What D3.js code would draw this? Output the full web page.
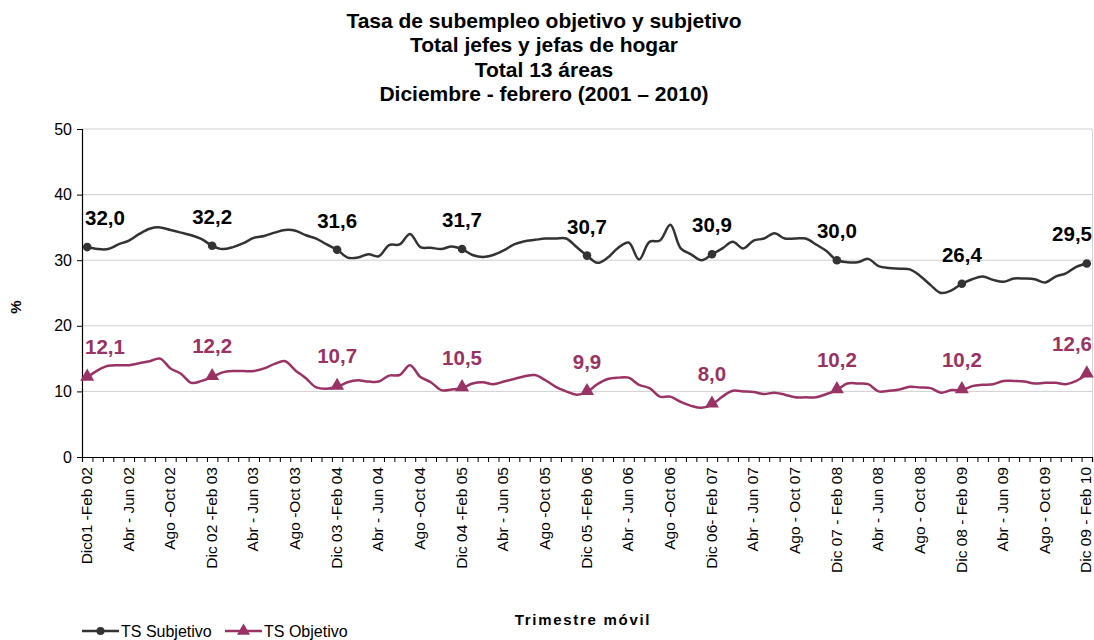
<!DOCTYPE html>
<html>
<head>
<meta charset="utf-8">
<script src="https://cdn.jsdelivr.net/npm/d3@7/dist/d3.min.js"></script>
<style>
  html, body { margin: 0; padding: 0; background: #fff; }
  svg { display: block; font-family: "Liberation Sans", Arial, sans-serif; }
</style>
</head>
<body>
<svg id="chart" width="1094" height="640"></svg>
<script>
// ---------- DATA ----------
const titleLines = [
  "Tasa de subempleo objetivo y subjetivo",
  "Total jefes y jefas de hogar",
  "Total 13 áreas",
  "Diciembre - febrero (2001 – 2010)"
];

// 97 rolling quarters (Dic01-Feb02 ... Dic09-Feb10), one per month
const categoryCount = 97;
const categories = d3.range(categoryCount);

const tickLabels = [
  "Dic01 -Feb 02", "Abr - Jun 02", "Ago -Oct 02",
  "Dic 02 -Feb 03", "Abr - Jun 03", "Ago -Oct 03",
  "Dic 03 -Feb 04", "Abr - Jun 04", "Ago -Oct 04",
  "Dic 04 -Feb 05", "Abr - Jun 05", "Ago -Oct 05",
  "Dic 05 -Feb 06", "Abr - Jun 06", "Ago -Oct 06",
  "Dic  06- Feb 07", "Abr - Jun 07", "Ago - Oct 07",
  "Dic 07 - Feb 08", "Abr - Jun 08", "Ago - Oct 08",
  "Dic 08 - Feb 09", "Abr - Jun 09", "Ago - Oct 09",
  "Dic 09 - Feb 10"
];

const subjetivo = [
  32.0, 31.7, 31.7, 32.4, 33.0, 34.0, 34.8, 35.0, 34.6, 34.2, 33.8, 33.2,
  32.2, 31.7, 32.0, 32.6, 33.4, 33.7, 34.2, 34.6, 34.5, 33.8, 33.3, 32.4,
  31.6, 30.4, 30.4, 30.9, 30.6, 32.3, 32.4, 34.0, 32.0, 31.9, 31.7, 32.1,
  31.7, 30.8, 30.5, 30.8, 31.5, 32.4, 32.9, 33.1, 33.3, 33.3, 33.3, 32.0,
  30.7, 29.6, 30.4, 31.9, 32.7, 30.1, 32.8, 33.0, 35.4, 31.8, 30.9, 30.0,
  30.9, 31.8, 32.8, 31.8, 33.0, 33.3, 34.1, 33.3, 33.3, 33.3, 32.4, 31.4,
  30.0, 29.7, 29.7, 30.2, 29.1, 28.8, 28.7, 28.6, 27.6, 26.2, 25.0, 25.4,
  26.4, 27.1, 27.5, 27.0, 26.7, 27.2, 27.2, 27.1, 26.6, 27.5, 28.0, 29.0,
  29.5
];

const objetivo = [
  12.1, 13.2, 13.9, 14.0, 14.0, 14.3, 14.6, 15.0, 13.5, 12.7, 11.3, 11.6,
  12.2, 12.9, 13.1, 13.1, 13.1, 13.5, 14.2, 14.6, 13.2, 12.0, 10.6, 10.4,
  10.7, 11.4, 11.7, 11.5, 11.5, 12.4, 12.5, 14.0, 12.2, 11.4, 10.2, 10.3,
  10.5, 11.2, 11.4, 11.1, 11.5, 11.9, 12.3, 12.5, 11.7, 10.7, 10.0, 9.5,
  9.9, 11.1, 11.9, 12.1, 12.1, 11.0, 10.5, 9.2, 9.2, 8.4, 7.8, 7.5,
  8.0, 9.2, 10.1, 10.0, 9.9, 9.6, 9.8, 9.5, 9.1, 9.1, 9.1, 9.6,
  10.2, 11.2, 11.2, 11.1, 10.0, 10.1, 10.3, 10.7, 10.6, 10.5, 9.8, 10.2,
  10.2, 10.8, 11.0, 11.1, 11.6, 11.6, 11.5, 11.2, 11.3, 11.3, 11.1, 11.6,
  12.6
];

const yTicks = [0, 10, 20, 30, 40, 50];
const labelEvery = 12;  // data labels / markers every December-February
const tickEvery = 4;    // axis labels every 4 months

const seriesNames = ["TS Subjetivo", "TS Objetivo"];
const colorSubj = "#333333";
const colorObj = "#993366";

// ---------- LAYOUT ----------
const svg = d3.select("#chart");
const W = 1094, H = 640;
const plot = { left: 82, right: 1092, top: 129, bottom: 457 };

const x = d3.scaleBand().domain(categories).range([plot.left, plot.right]).padding(0);
const xc = i => x(i) + x.bandwidth() / 2;
const y = d3.scaleLinear().domain([0, 50]).range([plot.bottom, plot.top]);

// Title
const title = svg.append("text")
  .attr("x", 544).attr("text-anchor", "middle")
  .style("font-weight", "bold").style("font-size", "21px").attr("fill", "#000");
titleLines.forEach((t, k) => {
  title.append("tspan").attr("x", 544).attr("y", 28 + k * 24.3).text(t);
});

// Gridlines
svg.append("g").selectAll("line").data(yTicks.filter(d => d > 0)).join("line")
  .attr("x1", plot.left).attr("x2", plot.right)
  .attr("y1", d => y(d)).attr("y2", d => y(d))
  .attr("stroke", "#cfcfcf").attr("stroke-width", 1);

// right border of plot area
svg.append("line")
  .attr("x1", plot.right + 0.5).attr("x2", plot.right + 0.5)
  .attr("y1", plot.top).attr("y2", plot.bottom)
  .attr("stroke", "#d6d6d6").attr("stroke-width", 1);

// Y axis
const yAxis = svg.append("g")
  .attr("transform", `translate(${plot.left},0)`)
  .call(d3.axisLeft(y).tickValues(yTicks).tickSize(5).tickPadding(5).tickFormat(d3.format("d")));
yAxis.select(".domain").attr("stroke", "#000").attr("stroke-width", 1.2);
yAxis.selectAll(".tick line").attr("stroke", "#000");
yAxis.selectAll("text").style("font-size", "16px").attr("fill", "#000");

// X axis: minor ticks at every month boundary
const xEdge = d3.scaleLinear().domain([0, categoryCount]).range([plot.left, plot.right]);
const xMinor = svg.append("g")
  .attr("transform", `translate(0,${plot.bottom})`)
  .call(d3.axisBottom(xEdge).tickValues(d3.range(0, categoryCount + 1)).tickSize(5).tickFormat(""));
xMinor.select(".domain").attr("stroke", "#000").attr("stroke-width", 1.2);
xMinor.selectAll(".tick line").attr("stroke", "#000");

// X axis labels every 4 months
const labelCats = categories.filter(i => i % tickEvery === 0);
const xLab = svg.append("g")
  .attr("transform", `translate(0,${plot.bottom})`)
  .call(d3.axisBottom(x).tickValues(labelCats).tickSize(0)
    .tickFormat(i => tickLabels[i / tickEvery]));
xLab.select(".domain").remove();
xLab.selectAll("text")
  .style("font-size", "15.5px").attr("fill", "#000")
  .attr("text-anchor", "end")
  .attr("transform", "rotate(-90)")
  .attr("x", -10).attr("y", 0).attr("dy", "0.3em");

// Axis titles
svg.append("text")
  .attr("transform", "translate(21,307) rotate(-90)")
  .attr("text-anchor", "middle")
  .style("font-size", "15px").style("font-weight", "bold")
  .text("%");

svg.append("text")
  .attr("x", 583).attr("y", 625).attr("text-anchor", "middle")
  .style("font-size", "15px").style("font-weight", "bold")
  .style("letter-spacing", "1.7px")
  .text("Trimestre móvil");

// Lines
const line = d3.line()
  .x((d, i) => xc(i))
  .y(d => y(d))
  .curve(d3.curveCatmullRom.alpha(0.5));

svg.append("path").datum(subjetivo)
  .attr("fill", "none").attr("stroke", colorSubj).attr("stroke-width", 2.5)
  .attr("stroke-linejoin", "round").attr("d", line);
svg.append("path").datum(objetivo)
  .attr("fill", "none").attr("stroke", colorObj).attr("stroke-width", 2.5)
  .attr("stroke-linejoin", "round").attr("d", line);

// Markers
const markIdx = categories.filter(i => i % labelEvery === 0);
svg.append("g").selectAll("circle").data(markIdx).join("circle")
  .attr("cx", i => xc(i)).attr("cy", i => y(subjetivo[i]))
  .attr("r", 4.3).attr("fill", colorSubj);
const tri = d3.symbol().type(d3.symbolTriangle).size(85);
svg.append("g").selectAll("path").data(markIdx).join("path")
  .attr("transform", i => `translate(${xc(i)},${y(objetivo[i]) - 1})`)
  .attr("d", tri).attr("fill", colorObj);

// Data labels
const fmt = v => d3.format(".1f")(v).replace(".", ",");
function addLabels(values, color, offset) {
  const g = svg.append("g");
  markIdx.forEach(i => {
    const t = g.append("text")
      .attr("y", y(values[i]) - offset)
      .attr("text-anchor", "middle")
      .style("font-size", "20.5px").style("font-weight", "bold")
      .attr("fill", color)
      .text(fmt(values[i]));
    const w = t.node().getComputedTextLength();
    let cx = xc(i);
    cx = Math.max(cx, plot.left + 3 + w / 2);
    cx = Math.min(cx, W - 2 - w / 2);
    t.attr("x", cx);
  });
}
addLabels(subjetivo, "#000", 22);
addLabels(objetivo, colorObj, 23.5);

// Legend
const legend = svg.append("g").attr("transform", "translate(0,631)");
const legItems = [
  { name: seriesNames[0], color: colorSubj, x0: 82, type: "circle" },
  { name: seriesNames[1], color: colorObj, x0: 225, type: "tri" }
];
legItems.forEach(it => {
  legend.append("line").attr("x1", it.x0).attr("x2", it.x0 + 37)
    .attr("y1", 0).attr("y2", 0).attr("stroke", it.color).attr("stroke-width", 2.5);
  if (it.type === "circle") {
    legend.append("circle").attr("cx", it.x0 + 18.5).attr("cy", 0).attr("r", 4).attr("fill", it.color);
  } else {
    legend.append("path").attr("transform", `translate(${it.x0 + 18.5},0)`)
      .attr("d", d3.symbol().type(d3.symbolTriangle).size(75)).attr("fill", it.color);
  }
  legend.append("text").attr("x", it.x0 + 39).attr("y", 5.5)
    .style("font-size", "16px").attr("fill", "#000").text(it.name);
});
</script>
</body>
</html>
